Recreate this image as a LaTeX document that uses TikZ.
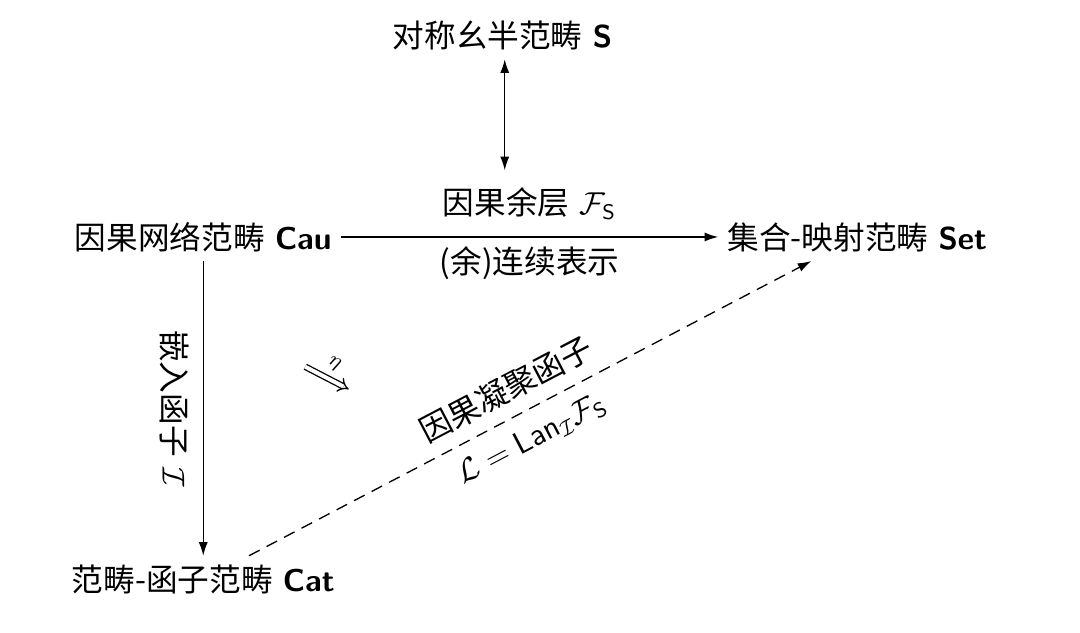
\documentclass[tikz,border=0pt]{standalone}
\usepackage{amsmath,amssymb}
\usepackage{fontspec}
\newfontfamily\cjk{Noto Sans CJK SC}
\newcommand{\zh}[1]{{\cjk #1}}
\usepackage{tikz}
\usetikzlibrary{arrows.meta}

\begin{document}
\begin{tikzpicture}[line width=0.5pt,
    catnode/.style={font=\large},
    arrlbl/.style={font=\large,midway},
    >={Latex[length=1.8mm,width=1.2mm]}]
  \useasboundingbox (0,0) rectangle (14.4,-8.44);
  \node[catnode] (symm) at (6.70,-0.47) {\zh{对称幺半范畴} \textsf{\bfseries S}};
  \node[catnode] (cau) at (2.71,-3.16) {\zh{因果网络范畴} \textsf{\bfseries Cau}};
  \node[catnode] (set) at (11.43,-3.16) {\zh{集合-映射范畴} \textsf{\bfseries Set}};
  \node[catnode] (catg) at (2.71,-7.73) {\zh{范畴-函子范畴} \textsf{\bfseries Cat}};
  \coordinate (fs) at (6.73,-2.27);
  \coordinate (eta0) at (4.07,-4.89);
  \coordinate (eta1) at (4.65,-5.19);

  \draw[<->] (symm.south -| fs) -- (fs);
  \draw[->] (cau) -- (set)
    node[arrlbl,above=3pt]{\zh{因果余层} $\mathcal{F}_{\mathsf{S}}$}
    node[arrlbl,below]{\zh{(余)连续表示}};
  \draw[->] (cau) -- (catg)
    node[arrlbl,rotate=-90,anchor=north,outer sep=2pt]{\zh{嵌入函子} $\mathcal{I}$};
  \draw[->,dash pattern=on 4.5pt off 3pt] (catg) -- (set)
    node[arrlbl,pos=0.48,sloped,above=1.5pt]{\zh{因果凝聚函子}}
    node[arrlbl,pos=0.48,sloped,below=2pt]{$\mathcal{L}=\mathsf{Lan}_{\mathcal{I}}\mathcal{F}_{\mathsf{S}}$};
  \draw[double,double distance=1.5pt,-{Implies}] (eta0) -- (eta1)
    node[midway,sloped,above,font=\footnotesize]{$\eta$};
\end{tikzpicture}
\end{document}
